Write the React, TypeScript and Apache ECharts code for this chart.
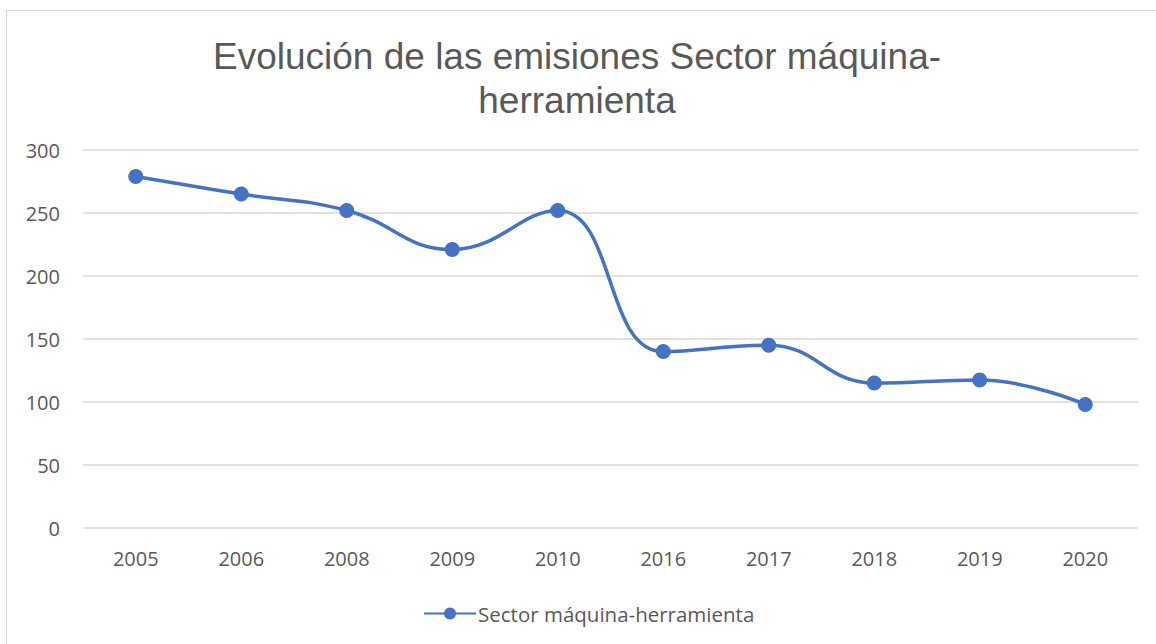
import React, { useEffect, useRef } from "react";
import * as echarts from "echarts";

const categories = ["2005", "2006", "2008", "2009", "2010", "2016", "2017", "2018", "2019", "2020"];
const seriesName = "Sector máquina-herramienta";
const values = [279, 265, 252, 221, 252, 140, 145, 115, 117.5, 98];
const titleText = "Evolución de las emisiones Sector máquina-\nherramienta";

export default function App() {
  const ref = useRef<HTMLDivElement>(null);
  useEffect(() => {
    if (!ref.current) return;
    const chart = echarts.init(ref.current, undefined, { renderer: "svg" });
    const font = "'Open Sans', 'Noto Sans', sans-serif";
    chart.setOption({
      animation: false,
      backgroundColor: "#ffffff",
      title: {
        text: titleText,
        left: 572,
        textAlign: "center",
        top: 29,
        textStyle: {
          fontFamily: "'Liberation Sans', Arial, sans-serif",
          fontSize: 37,
          fontWeight: "normal",
          color: "#595959",
          lineHeight: 44,
        },
      },
      grid: { left: 83, right: 18, top: 150, bottom: 116, containLabel: false },
      legend: {
        data: [seriesName],
        top: 598,
        left: 418,
        itemWidth: 52,
        itemHeight: 15,
        itemGap: 8,
        textStyle: { fontFamily: font, fontSize: 20.5, color: "#595959", padding: [0, 0, 0, -3] },
      },
      xAxis: {
        type: "category",
        data: categories,
        boundaryGap: true,
        axisLine: { show: false },
        axisTick: { show: false },
        axisLabel: { fontFamily: font, fontSize: 20, color: "#595959", margin: 20 },
      },
      yAxis: {
        type: "value",
        min: 0,
        max: 300,
        interval: 50,
        axisLine: { show: false },
        axisTick: { show: false },
        axisLabel: { fontFamily: font, fontSize: 20, color: "#595959", margin: 23 },
        splitLine: { lineStyle: { color: "#d9d9d9", width: 1.5 } },
      },
      series: [
        {
          name: seriesName,
          type: "line",
          data: values,
          smooth: 0.45,
          symbol: "circle",
          symbolSize: 15,
          lineStyle: { color: "#4472c4", width: 3.5 },
          itemStyle: { color: "#4472c4" },
        },
      ],
    });
    return () => chart.dispose();
  }, []);
  return (
    <div style={{ position: "absolute", left: 0, top: 0, width: 1156, height: 644, background: "#fff", overflow: "hidden" }}>
      <div ref={ref} style={{ position: "absolute", left: 0, top: 0, width: 1156, height: 644 }} />
      <div
        style={{
          position: "absolute",
          left: 6,
          top: 10,
          width: 1170,
          height: 660,
          border: "1.5px solid #d9d9d9",
          pointerEvents: "none",
          boxSizing: "border-box",
        }}
      />
    </div>
  );
}
